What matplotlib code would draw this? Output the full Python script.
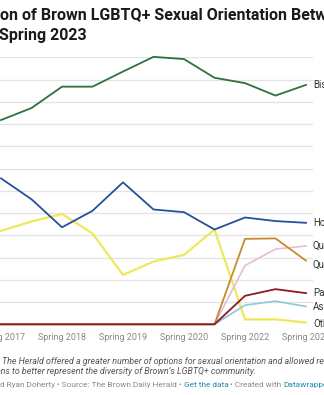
import matplotlib
matplotlib.use("Agg")
import matplotlib.pyplot as plt

# ---- data (share of respondents, %) ----
periods = ["Spring 2017", "Fall 2017", "Spring 2018", "Fall 2018", "Spring 2019",
           "Fall 2019", "Spring 2020", "Fall 2021", "Spring 2022", "Fall 2022", "Spring 2023"]
tick_labels = ["Spring 2017", "Spring 2018", "Spring 2019", "Spring 2020",
               "Spring 2022", "Spring 2023"]

bisexual    = [45.9, 48.6, 53.4, 53.4, 56.8, 60.1, 59.6, 55.4, 54.2, 51.4, 53.8]
homosexual  = [32.8, 28.1, 21.8, 25.5, 31.9, 25.8, 25.2, 21.3, 24.0, 23.2, 22.8]
other       = [21.0, 23.1, 24.8, 20.4, 11.1, 14.1, 15.6, 21.3, 1.1, 1.1, 0.4]
questioning = [0, 0, 0, 0, 0, 0, 0, 0, 13.2, 16.9, 17.6]
queer       = [0, 0, 0, 0, 0, 0, 0, 0, 19.2, 19.3, 14.3]
asexual     = [0, 0, 0, 0, 0, 0, 0, 0, 4.3, 5.2, 4.0]
pansexual   = [0, 0, 0, 0, 0, 0, 0, 0, 6.4, 7.9, 7.0]

series = [
    ("Other",       other,       "#eee85a", 1.6),
    ("Questioning", questioning, "#e6bcd8", 1.2),
    ("Asexual",     asexual,     "#8ccad6", 1.2),
    ("Queer",       queer,       "#c68c2c", 1.3),
    ("Homosexual",  homosexual,  "#27509b", 1.3),
    ("Bisexual",    bisexual,    "#2f7040", 1.3),
    ("Pansexual",   pansexual,   "#8e1a22", 1.3),
]

FONT = "Roboto"
W, H = 324, 395
fig = plt.figure(figsize=(W / 100, H / 100), dpi=100)
fig.patch.set_facecolor("white")


def fx(px):
    return px / W


def fy(py):
    return 1 - py / H


# plot area (left part with the y labels runs off the canvas)
x0_px, step_px = 1.0, 30.5
left_idx, right_idx = -1.5, 10.23
ax_left = x0_px + left_idx * step_px
ax_right = x0_px + right_idx * step_px
top_px, base_px = 57.3, 324.3
ax = fig.add_axes([fx(ax_left), fy(base_px), (ax_right - ax_left) / W, (base_px - top_px) / H])
ax.set_xlim(left_idx, right_idx)
ax.set_ylim(0, 60)
ax.set_facecolor("white")
for s in ax.spines.values():
    s.set_visible(False)
ax.set_yticks(range(0, 61, 5))
ax.tick_params(axis="y", length=0, labelleft=False)
ax.grid(axis="y", color="#e3e3e3", linewidth=0.9)
ax.set_axisbelow(True)

x = list(range(len(periods)))
tick_pos = [periods.index(t) for t in tick_labels]
ax.set_xticks(tick_pos)
ax.set_xticklabels(tick_labels, fontfamily=FONT, fontsize=6.5, color="#888888")
ax.tick_params(axis="x", length=0, pad=6)

for name, vals, color, lw in series:
    ax.plot(x, vals, color=color, linewidth=lw, clip_on=False, solid_joinstyle="round", zorder=3)

# direct labels at the line ends
label_adjust = {"Queer": -1.0, "Other": -0.4}
for name, vals, color, lw in series:
    ax.annotate(name, (x[-1], vals[-1] + label_adjust.get(name, 0)), xytext=(5, 0),
                textcoords="offset points", va="center", ha="left",
                fontfamily=FONT, fontsize=7, color="#333333", annotation_clip=False)

renderer = fig.canvas.get_renderer()


def text_width(s, **kw):
    t = fig.text(0, 0, s, **kw)
    w = t.get_window_extent(renderer).width
    t.remove()
    return w


def cut_text(prefix, visible, x_px, y_px, **kw):
    # place a line so that its opening `prefix` lies left of the canvas edge
    w = text_width(prefix, **kw)
    fig.text(fx(x_px - w), fy(y_px), prefix + visible, va="baseline", **kw)


def run_text(pieces, x_px, y_px, **kw):
    # draw differently coloured pieces one after another on a single line
    cur = x_px
    for s, color in pieces:
        fig.text(fx(cur), fy(y_px), s, va="baseline", color=color, **kw)
        cur += text_width(s, **kw)


title_kw = dict(fontfamily=FONT, fontweight="bold", fontsize=11.5, color="#1a1a1a")
cut_text("Distributi", "on of Brown LGBTQ+ Sexual Orientation Between Spring 2017 and",
         0.5, 20, **title_kw)
fig.text(fx(-0.8), fy(40), "Spring 2023", va="baseline", **title_kw)

note_kw = dict(fontfamily=FONT, fontstyle="italic", fontsize=6.4, color="#555555")
cut_text("Note: No survey ran in Fall 2020", ". The Herald offered a greater number of options for sexual "
         "orientation and allowed respondents to select multiple", -2.5, 364, **note_kw)
cut_text("optio", "ns to better represent the diversity of Brown\u2019s LGBTQ+ community.",
         1.0, 374, **note_kw)

credit_kw = dict(fontfamily=FONT, fontsize=5.95)
pre = "an"
pre_w = text_width(pre, **credit_kw)
run_text([(pre + "d Ryan Doherty \u2022 Source: The Brown Daily Herald \u2022 ", "#8a8a8a"),
          ("Get the data", "#1f8bad"),
          (" \u2022 Created with ", "#8a8a8a"),
          ("Datawrapper", "#1f8bad")], -pre_w, 387, **credit_kw)

fig.savefig("out.png", dpi=100, facecolor="white")
